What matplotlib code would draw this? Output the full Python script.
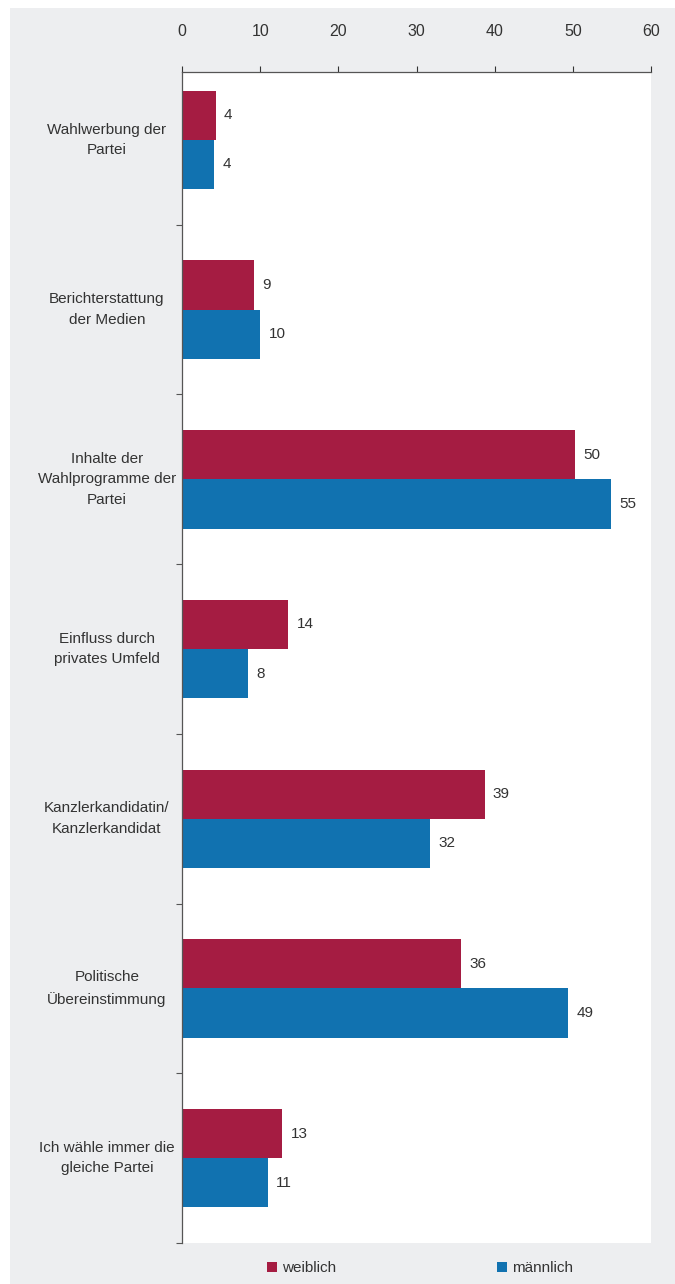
import matplotlib.pyplot as plt
from matplotlib.patches import Rectangle
import numpy as np

plt.rcParams['font.family'] = ['Liberation Sans', 'DejaVu Sans']

categories = ['Wahlwerbung der\nPartei', 'Berichterstattung\nder Medien',
              'Inhalte der\nWahlprogramme der\nPartei', 'Einfluss durch\nprivates Umfeld',
              'Kanzlerkandidatin/\nKanzlerkandidat', 'Politische\nÜbereinstimmung',
              'Ich wähle immer die\ngleiche Partei']
weiblich = [4.3, 9.2, 50.3, 13.6, 38.7, 35.7, 12.8]
maennlich = [4.1, 10.0, 54.9, 8.4, 31.7, 49.4, 11.0]
xticks = [0, 10, 20, 30, 40, 50, 60]

red = '#A51C42'
blue = '#1172B0'
txt = '#333333'

fig = plt.figure(figsize=(6.75, 12.84), dpi=100)
bg = Rectangle((10 / 675, 0), 1, 1 - 8 / 1284, transform=fig.transFigure,
               facecolor='#EDEEF0', edgecolor='none', zorder=-10)
fig.patches.append(bg)
ax = fig.add_axes([182 / 675, 1 - 1243 / 1284, 469 / 675, (1243 - 72) / 1284])
ax.set_zorder(5)
ax.set_facecolor('white')

y = np.arange(len(categories))
h = 0.29
ax.barh(y - h / 2, weiblich, height=h, color=red, label='weiblich')
ax.barh(y + h / 2, maennlich, height=h, color=blue, label='männlich')

for i in range(len(categories)):
    ax.annotate(str(round(weiblich[i])), (weiblich[i], y[i] - h / 2), xytext=(6, 0),
                textcoords='offset points', va='center', fontsize=11, color=txt)
    ax.annotate(str(round(maennlich[i])), (maennlich[i], y[i] + h / 2), xytext=(6, 0),
                textcoords='offset points', va='center', fontsize=11, color=txt)
    ax.text(-0.16, y[i], categories[i], transform=ax.get_yaxis_transform(),
            ha='center', va='center', multialignment='center', fontsize=11, color=txt,
            linespacing=1.6)

ax.set_xlim(0, 60)
ax.set_ylim(len(categories) - 0.5, -0.4)
ax.xaxis.tick_top()
ax.set_xticks(xticks)
ax.tick_params(axis='x', direction='out', length=4, pad=20, labelsize=11.5, colors=txt)
ax.set_yticks(np.arange(len(categories)) + 0.5)
ax.set_yticklabels([])
ax.tick_params(axis='y', direction='out', length=4, colors='#555555')
for s in ['right', 'bottom']:
    ax.spines[s].set_visible(False)
for s in ['left', 'top']:
    ax.spines[s].set_color('#555555')
    ax.spines[s].set_linewidth(0.9)

fig.legend(loc='lower center', bbox_to_anchor=(0.622, -0.004), ncol=2, frameon=False,
           fontsize=11, handlelength=0.7, handleheight=0.7, handletextpad=0.3,
           columnspacing=10.5, labelcolor=txt)

fig.savefig('out.png', dpi=100)
